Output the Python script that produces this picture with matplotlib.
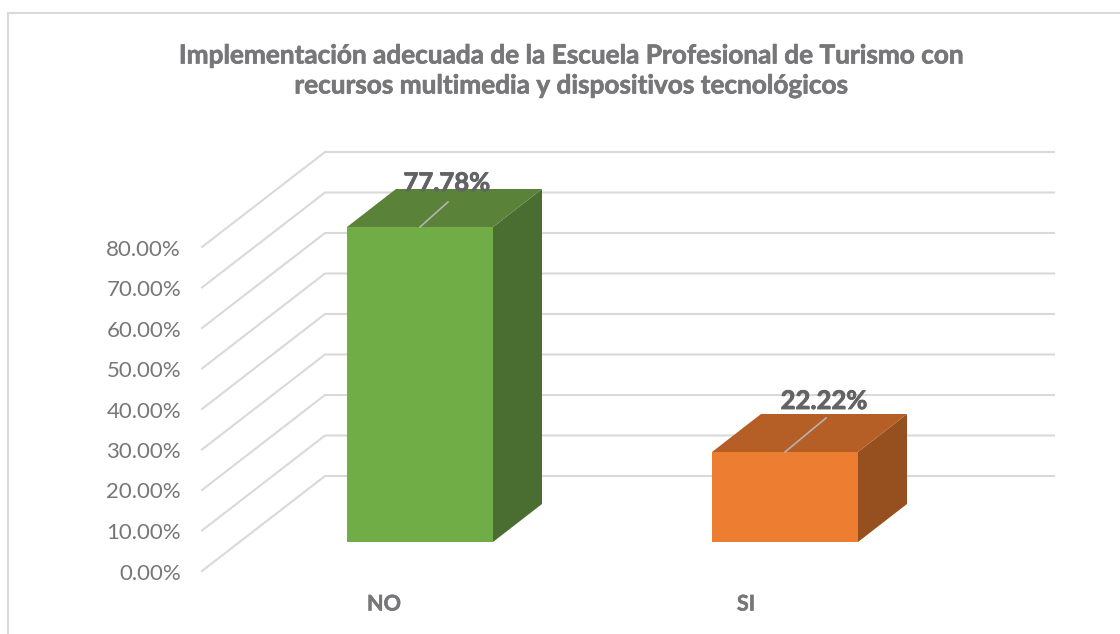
import matplotlib
matplotlib.use('Agg')
import matplotlib.pyplot as plt
from matplotlib.patches import Polygon
import matplotlib.patheffects as pe

categories = ['NO', 'SI']
values = [77.78, 22.22]
value_labels = ['77.78%', '22.22%']
ticks = [0, 10, 20, 30, 40, 50, 60, 70, 80]
tick_labels = ['0.00%', '10.00%', '20.00%', '30.00%', '40.00%', '50.00%', '60.00%', '70.00%', '80.00%']
title = 'Implementación adecuada de la Escuela Profesional de Turismo con\nrecursos multimedia y dispositivos tecnológicos'

front_colors = ['#70AD47', '#ED7D31']
top_colors = ['#5A8239', '#B55E25']
side_colors = ['#4A6E32', '#96501F']
grid_color = '#D9D9D9'
text_color = '#77777A'
label_color = '#636365'

plt.rcParams['font.family'] = ['Lato', 'DejaVu Sans']

W, H = 1120, 634
fig = plt.figure(figsize=(W / 100, H / 100), dpi=100)
ax = fig.add_axes([0, 0, 1, 1])

# x in category units, y in percent; pixels per unit below
px_x = 365.0
px_y = 4.05
x0_px = 420.0   # centre of first bar
y0_px = 571.0   # 0% on the front edge of the floor
ax.set_xlim(-x0_px / px_x, (W - x0_px) / px_x)
ax.set_ylim((y0_px - H) / px_y, y0_px / px_y)
ax.axis('off')


def xu(px):
    return px / px_x


def yu(px):
    return px / px_y


def heavier(col, w):
    return [pe.withStroke(linewidth=w, foreground=col)]


# wall + floor grid
wall_left = xu(202 - x0_px)
wall_back = xu(325 - x0_px)
wall_right = xu(1054 - x0_px)
lift = yu(95)
for t in ticks:
    ax.plot([wall_left, wall_back, wall_right], [t, t + lift, t + lift],
            color=grid_color, lw=1.5, solid_joinstyle='miter', zorder=1)

# bars (oblique box)
half = xu(73)
depth_x = xu(49)
depth_y = yu(38)
base = yu(29)   # bar floor sits above the front edge
leader_dx = [28, 41]
leader_dy = [25, 34]
label_dx = [27, 39]
label_dy = [44, 51]
for i, v in enumerate(values):
    l, r = i - half, i + half
    b, t = base, base + v
    ax.add_patch(Polygon([(r, b), (r + depth_x, b + depth_y), (r + depth_x, t + depth_y), (r, t)],
                         fc=side_colors[i], ec='none', zorder=2))
    ax.add_patch(Polygon([(l, t), (r, t), (r + depth_x, t + depth_y), (l + depth_x, t + depth_y)],
                         fc=top_colors[i], ec='none', zorder=2))
    ax.add_patch(Polygon([(l, b), (r, b), (r, t), (l, t)],
                         fc=front_colors[i], ec='none', zorder=3))
    # leader line up to the value label
    ax.plot([i, i + xu(leader_dx[i])], [t, t + yu(leader_dy[i])], color='#B4B4B4', lw=1.2, zorder=4)
    ax.text(i + xu(label_dx[i]), t + yu(label_dy[i]), value_labels[i], ha='center', va='center',
            fontsize=18.5, fontweight='bold', color=label_color, zorder=5,
            path_effects=heavier(label_color, 0.6))

# y tick labels
for t, lab in zip(ticks, tick_labels):
    ax.text(xu(181 - x0_px), t - yu(2.5), lab, ha='right', va='center', fontsize=16, color=text_color)

# category labels
ax.text(xu(384 - x0_px), yu(-33), categories[0], ha='center', va='center',
        fontsize=15.5, fontweight='bold', color=text_color, path_effects=heavier(text_color, 0.4))
ax.text(1 + xu(746 - 785), yu(-33), categories[1], ha='center', va='center',
        fontsize=15.5, fontweight='bold', color=text_color, path_effects=heavier(text_color, 0.4))

ax.text(xu(571 - x0_px), yu(y0_px - 70.5), title, ha='center', va='center', fontsize=18.85,
        fontweight='bold', color=text_color, linespacing=1.3, path_effects=heavier(text_color, 0.5))

# outer frame, open at the bottom and right
ax.plot([xu(8 - x0_px), xu(8 - x0_px), xu(W - x0_px)],
        [yu(y0_px - H), yu(y0_px - 13), yu(y0_px - 13)], color=grid_color, lw=1.5, zorder=1)

fig.savefig('out.png', dpi=100)
